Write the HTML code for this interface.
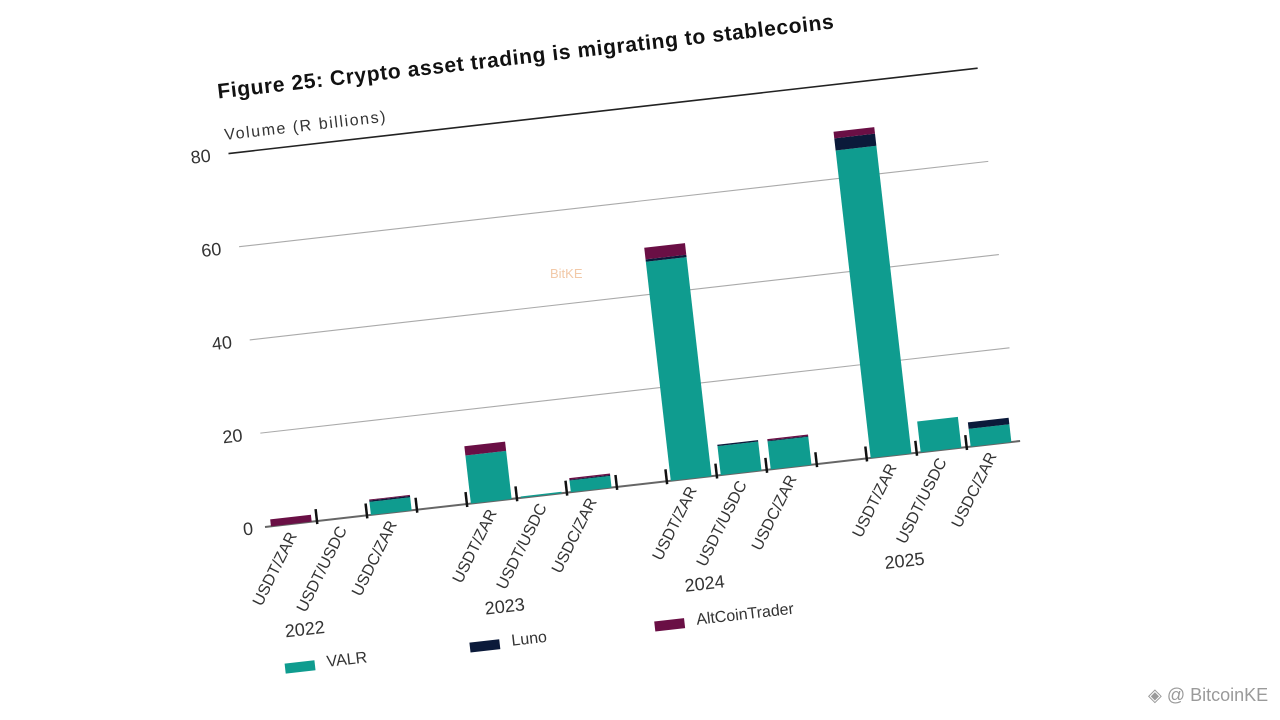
<!DOCTYPE html>
<html><head><meta charset="utf-8"><style>
html,body{margin:0;padding:0;background:#fff;width:1280px;height:720px;overflow:hidden}
svg{display:block;font-family:"Liberation Sans",sans-serif}
</style></head><body>
<svg id="chart" width="1280" height="720" viewBox="0 0 1280 720">
<g id="plot" transform="translate(265,527) rotate(-6.5)">
<text x="2" y="-431" font-size="21" font-weight="bold" fill="#111" textLength="620">Figure 25:  Crypto asset trading is migrating to stablecoins</text>
<text x="4" y="-389" font-size="16" fill="#333" textLength="162">Volume (R billions)</text>
</g>
<text x="1148" y="701" font-size="18" fill="#9a9a9a">◈ @ BitcoinKE</text>
<text x="550" y="278" font-size="13" fill="#f2c9a8">BitKE</text>
</svg>
<script>
const years = ["2022","2023","2024","2025"];
const categories = ["USDT/ZAR","USDT/USDC","USDC/ZAR"];
const valr = [[0,0,2.8],[10.3,0.3,2.5],[47,6.2,6.0],[66,6.6,3.8]];
const luno = [[0,0,0.3],[0,0,0.2],[0.5,0.3,0.2],[2.6,0,1.4]];
const alt  = [[1.5,0,0.2],[2.0,0,0.3],[2.5,0,0.3],[1.4,0,0]];
const yTicks = [0,20,40,60,80];
const legendNames = ["VALR","Luno","AltCoinTrader"];

const NS="http://www.w3.org/2000/svg";
const g=document.getElementById('plot');
const colors=["#0f9c8f","#0b1a3a","#6a0f45"];
const slotW=50.3, pxPerUnit=4.69;
const y=v=>-v*pxPerUnit;
const slotX=(gi,k)=>(gi*4+k)*slotW;
function mk(tag,attrs){const e=document.createElementNS(NS,tag);for(const k in attrs)e.setAttribute(k,attrs[k]);g.appendChild(e);return e;}

yTicks.forEach(t=>{
  if(t>0){
    const l=mk('line',{x1:6,x2:760,y1:y(t),y2:y(t),stroke:t===80?'#222':'#aaa','stroke-width':t===80?1.6:1.1});
    
    
  }
  const tx=mk('text',{x:-12,y:y(t)+6,'font-size':18,fill:'#333','text-anchor':'end'});
  tx.textContent=t;
  
  
});
const base=mk('line',{x1:0,x2:760,y1:0,y2:0,stroke:'#666','stroke-width':2});


for(let i=1;i<=14;i++){
  const tk=mk('line',{x1:i*slotW+2,x2:i*slotW+2,y1:3,y2:-12,stroke:'#111','stroke-width':2.5});
  
  
}
years.forEach((yr,gi)=>{
  categories.forEach((c,k)=>{
    const x0=slotX(gi,k)+6, w=41;
    let acc=0;
    [valr,luno,alt].forEach((series,si)=>{
      const v=series[gi][k];
      if(v>0){
        const r=mk('rect',{x:x0,width:w,y:y(acc+v),height:v*pxPerUnit,fill:colors[si]});
        
        
      }
      acc+=v;
    });
    const cx=slotX(gi,k)+slotW/2+6;
    const lb=mk('text',{x:0,y:0,'font-size':16,fill:'#333','text-anchor':'end',transform:`translate(${cx},12) rotate(-57)`});
    lb.textContent=c;
    
    
  });
  const yl=mk('text',{x:slotX(gi,0)+28,y:112,'font-size':18,fill:'#333','text-anchor':'middle'});
  yl.textContent=yr;
  
  
});
legendNames.forEach((n,i)=>{
  const lx=4+i*186;
  const sw=mk('rect',{x:lx,y:138,width:30,height:10,fill:colors[i]});
  
  
  const lt=mk('text',{x:lx+42,y:146,'font-size':16,fill:'#333'});
  lt.textContent=n;
  
  
});
</script>
</body></html>
